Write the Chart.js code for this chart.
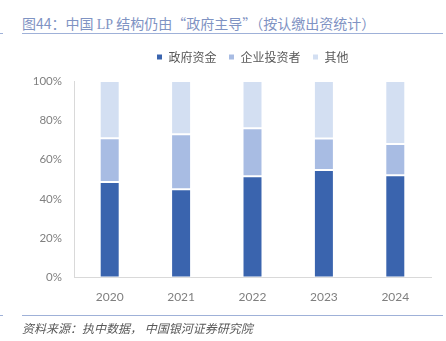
<!DOCTYPE html>
<html lang="zh">
<head>
<meta charset="UTF-8">
<title>中国 LP 结构</title>
<script src="https://cdn.jsdelivr.net/npm/chart.js"></script>
<style>
  body { margin: 0; width: 446px; height: 341px; background: #fff; position: relative; overflow: hidden;
         font-family: "Noto Sans CJK SC", "Noto Sans", sans-serif; }
  #title { position: absolute; left: 22px; top: 13px; font-size: 14px; color: #7f93c3; white-space: nowrap; }
  #title .lp { font-family: "Liberation Serif", serif; }
  .rule { position: absolute; left: 22px; width: 421px; height: 1px; background: #9fb1d8; }
  .tick { position: absolute; left: 0; width: 3px; height: 1px; background: #9fb1d8; }
  #source { position: absolute; left: 22px; top: 319px; font-size: 12px; color: #595959; font-style: italic; white-space: nowrap; }
  #wrap { position: absolute; left: 0; top: 39px; width: 446px; height: 277px; }
</style>
</head>
<body>
<div id="title">图44：中国 <span class="lp">LP</span> 结构仍由“政府主导”（按认缴出资统计）</div>
<div class="rule" style="top:33px"></div>
<div class="tick" style="top:33px"></div>
<div id="wrap"><canvas id="myChart"></canvas></div>
<div class="rule" style="top:315px"></div>
<div class="tick" style="top:315px"></div>
<div id="source">资料来源：执中数据， 中国银河证券研究院</div>

<script>
    // 数据（%）
    var years = ["2020", "2021", "2022", "2023", "2024"];
    var govFunds = [48.6, 45.0, 51.6, 54.7, 52.1];
    var enterprise = [22.3, 27.9, 24.4, 16.0, 15.9];
    var others = [29.1, 27.1, 24.0, 29.3, 32.0];
    var seriesNames = ["政府资金", "企业投资者", "其他"];
    var colors = ["#3a64ae", "#a8bce3", "#d3dff2"];

    // 图例下方多留一点空
    var legendGap = {
        id: 'legendGap',
        beforeInit: function (chart) {
            var fit = chart.legend.fit;
            chart.legend.fit = function () {
                fit.bind(chart.legend)();
                this.height += 8;
            };
        }
    };

    var ctx = document.getElementById("myChart").getContext('2d');
    var myChart = new Chart(ctx, {
        type: 'bar',
        plugins: [legendGap],
        data: {
            labels: years,
            datasets: [govFunds, enterprise, others].map(function (d, i) {
                return {
                    label: seriesNames[i],
                    data: d,
                    backgroundColor: colors[i],
                    borderColor: "#ffffff",
                    borderWidth: 1,
                    borderSkipped: false,
                    categoryPercentage: 1,
                    barPercentage: 0.28
                };
            })
        },
        options: {
            responsive: true,
            maintainAspectRatio: false,
            animation: false,
            layout: { padding: { left: 0, right: 15, top: 0, bottom: 0 } },
            plugins: {
                tooltip: { enabled: false },
                legend: {
                    position: 'top',
                    fullSize: false,
                    labels: {
                        boxWidth: 6, boxHeight: 6, padding: 12,
                        color: "#595959",
                        font: { size: 12, family: "Noto Sans CJK SC" }
                    }
                }
            },
            scales: {
                x: {
                    stacked: true,
                    grid: { display: false, drawTicks: false },
                    border: { color: "#d9d9d9" },
                    ticks: { color: "#7f7f7f", padding: 12, font: { size: 12, family: "Lato" } }
                },
                y: {
                    stacked: true,
                    min: 0, max: 100,
                    grid: { display: false, drawTicks: false },
                    border: { color: "#d9d9d9" },
                    afterFit: function (s) { s.width = 74; },
                    ticks: {
                        stepSize: 20, padding: 12, color: "#808080",
                        font: { size: 11.5, family: "Lato" },
                        callback: function (v) { return v + "%"; }
                    }
                }
            }
        }
    });
</script>
</body>
</html>
